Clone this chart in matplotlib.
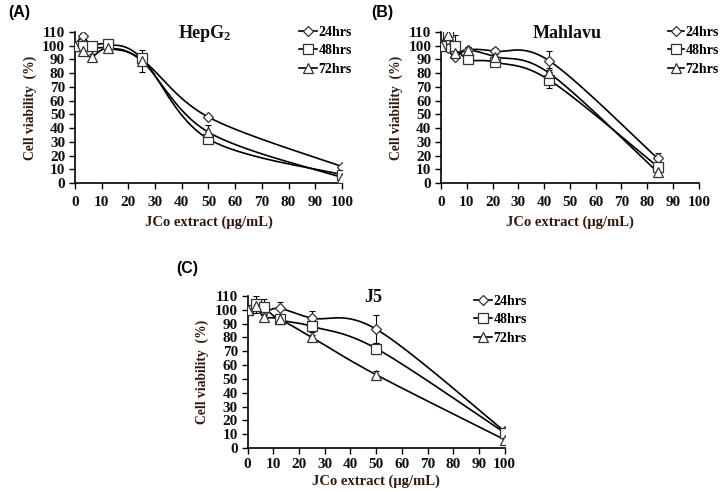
import numpy as np
import matplotlib
matplotlib.use("Agg")
import matplotlib.pyplot as plt

# ---------------- data ----------------
series_labels = ["24hrs", "48hrs", "72hrs"]

hep_x = [0, 3.125, 6.25, 12.5, 25, 50, 100]
hep_24 = [100, 107, 99, 98, 90, 48, 12]
hep_48 = [100, 100, 100, 101, 91, 32, 6]
hep_72 = [100, 96, 92, 98, 89, 37, 4]
hep_24_err = [1, 2, 2, 2, 3, 1, 1]
hep_48_err = [1, 2, 2, 2, 3, 2, 1]
hep_72_err = [1, 2, 2, 2, 8, 5, 1]

mah_x = [0, 2.625, 5.25, 10.5, 21, 42, 84]
mah_24 = [100, 98, 92, 97, 96, 89, 18]
mah_48 = [100, 110, 100, 90, 88, 75, 12]
mah_72 = [100, 108, 95, 97, 92, 80, 8]
mah_24_err = [1, 2, 2, 2, 2, 7, 4]
mah_48_err = [1, 3, 8, 2, 3, 6, 5]
mah_72_err = [1, 3, 3, 2, 2, 4, 3]

j5_x = [0, 3.125, 6.25, 12.5, 25, 50, 100]
j5_24 = [100, 104, 99, 101, 94, 86, 12]
j5_48 = [100, 104, 102, 93, 88, 72, 11]
j5_72 = [100, 103, 95, 93, 80, 53, 6]
j5_24_err = [1, 6, 2, 5, 5, 10, 2]
j5_48_err = [1, 3, 6, 2, 4, 4, 2]
j5_72_err = [1, 3, 3, 2, 2, 3, 1]

panels = [
    dict(tag="(A)", title="HepG", sub="2", x=hep_x,
         ys=[hep_24, hep_48, hep_72], errs=[hep_24_err, hep_48_err, hep_72_err],
         rect=[0.104, 0.628, 0.371, 0.307], tagpos=(0.011, 0.99),
         leg=(0.405, 0.962), hl=1.35, xpad=5, xlp=5),
    dict(tag="(B)", title="Mahlavu", sub=None, x=mah_x,
         ys=[mah_24, mah_48, mah_72], errs=[mah_24_err, mah_48_err, mah_72_err],
         rect=[0.6125, 0.628, 0.358, 0.307], tagpos=(0.515, 0.99),
         leg=(0.918, 0.962), hl=1.15, xpad=5, xlp=5),
    dict(tag="(C)", title="J5", sub=None, x=j5_x,
         ys=[j5_24, j5_48, j5_72], errs=[j5_24_err, j5_48_err, j5_72_err],
         rect=[0.344, 0.0894, 0.357, 0.309], tagpos=(0.245, 0.47),
         leg=(0.648, 0.415), hl=1.35, xpad=3.5, xlp=2),
]

markers = ["D", "s", "^"]
msizes = [5, 7, 7]
label_color = "#33190f"
serif = ["Liberation Serif", "DejaVu Serif"]


def smooth(x, y, n=40):
    x = np.asarray(x, float)
    y = np.asarray(y, float)
    px = np.concatenate([[x[0]], x, [x[-1]]])
    py = np.concatenate([[y[0]], y, [y[-1]]])
    outx, outy = [], []
    for i in range(1, len(px) - 2):
        p0 = np.array([px[i - 1], py[i - 1]])
        p1 = np.array([px[i], py[i]])
        p2 = np.array([px[i + 1], py[i + 1]])
        p3 = np.array([px[i + 2], py[i + 2]])
        c1 = p1 + (p2 - p0) / 6.0
        c2 = p2 - (p3 - p1) / 6.0
        t = np.linspace(0, 1, n)[:, None]
        b = ((1 - t) ** 3) * p1 + 3 * ((1 - t) ** 2) * t * c1 + 3 * (1 - t) * t ** 2 * c2 + t ** 3 * p2
        outx.extend(b[:, 0])
        outy.extend(b[:, 1])
    return np.array(outx), np.array(outy)


fig = plt.figure(figsize=(7.2, 4.92), dpi=100)

for p in panels:
    ax = fig.add_axes(p["rect"])
    handles = []
    for k in range(3):
        sx, sy = smooth(p["x"], p["ys"][k])
        ax.plot(sx, sy, color="black", lw=1.2, zorder=2)
        ax.errorbar(p["x"], p["ys"][k], yerr=p["errs"][k], fmt="none",
                    ecolor="black", elinewidth=0.8, capsize=2, capthick=0.8, zorder=2)
        ax.plot(p["x"], p["ys"][k], linestyle="none", marker=markers[k],
                ms=msizes[k], mfc="white", mec="#333333", mew=0.9, zorder=3)
        h, = ax.plot([], [], color="black", lw=1.2, marker=markers[k],
                     ms=msizes[k], mfc="white", mec="#333333", mew=0.9)
        handles.append(h)
    ax.set_xlim(0, 100)
    ax.set_ylim(0, 110)
    ax.set_xticks(np.arange(0, 101, 10))
    ax.set_yticks(np.arange(0, 111, 10))
    ax.spines["top"].set_visible(False)
    ax.spines["right"].set_visible(False)
    ax.spines["left"].set_linewidth(1.2)
    ax.spines["bottom"].set_linewidth(1.2)
    ax.tick_params(direction="out", length=4, width=1.0)
    ax.tick_params(axis="x", pad=p["xpad"])
    ax.tick_params(axis="y", pad=3)
    for lab in ax.get_xticklabels() + ax.get_yticklabels():
        lab.set_fontfamily(serif)
        lab.set_fontweight("bold")
        lab.set_fontsize(11)
        lab.set_color("#111111")
    ax.set_xlabel("JCo extract (μg/mL)", fontfamily=serif, fontweight="bold",
                  fontsize=10.5, color=label_color, labelpad=p["xlp"])
    ax.set_ylabel("Cell viability  (%)", fontfamily=serif, fontweight="bold",
                  fontsize=9.8, color=label_color, labelpad=4)
    if p["sub"] is None:
        ax.text(0.49, 0.99, p["title"], transform=ax.transAxes, ha="center", va="center",
                fontfamily=serif, fontweight="bold", fontsize=13, color="#111111")
    else:
        t = ax.text(0.475, 0.99, p["title"], transform=ax.transAxes, ha="center", va="center",
                    fontfamily=serif, fontweight="bold", fontsize=13, color="#111111")
        ax.annotate(p["sub"], xy=(1.0, 0.0), xycoords=t, xytext=(-1.2, -1),
                    textcoords="offset points", ha="left", va="bottom",
                    fontfamily=serif, fontweight="bold", fontsize=9, color="#111111")
    fig.text(p["tagpos"][0], p["tagpos"][1], p["tag"], ha="left", va="top",
             fontfamily=["Liberation Sans", "DejaVu Sans"], fontweight="bold", fontsize=11.5)
    fig.legend(handles, series_labels, loc="upper left",
               bbox_to_anchor=p["leg"], frameon=False, handlelength=p["hl"],
               handletextpad=0.1, borderpad=0.0, labelspacing=0.4,
               prop=dict(family=serif, weight="bold", size=10))

fig.savefig("out.png", dpi=100)
